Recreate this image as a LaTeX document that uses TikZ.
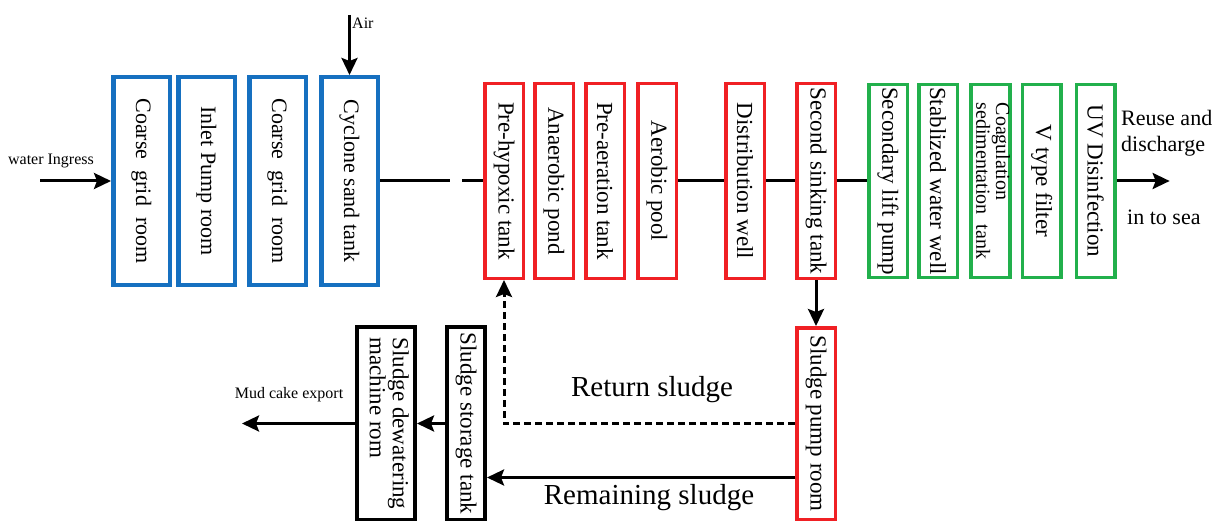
\documentclass[tikz,border=0pt]{standalone}
\usepackage{fontspec}
\setmainfont{Liberation Serif}
\usepackage{graphicx}
\usepackage{xcolor}
\usetikzlibrary{positioning, arrows.meta}
\definecolor{tankblue}{RGB}{22,112,192}
\definecolor{tankred}{RGB}{240,32,36}
\definecolor{tankgreen}{RGB}{34,176,76}
\newcommand{\vtext}[1]{\rotatebox{-90}{#1}}
\newcommand{\vtwo}[2]{\rotatebox{-90}{\begin{tabular}{@{}l@{}}#1\\#2\end{tabular}}}
\tikzstyle{blockb} = [rectangle, draw=tankblue, line width=4.5pt, inner sep=0pt, minimum width=56.5pt, minimum height=207.5pt, font=\fontsize{22}{22}\selectfont]
\tikzstyle{blockr} = [rectangle, draw=tankred, line width=3.5pt, inner sep=0pt, minimum width=38.5pt, minimum height=194.5pt, font=\fontsize{23}{23}\selectfont]
\tikzstyle{blockg} = [rectangle, draw=tankgreen, line width=3.5pt, inner sep=0pt, minimum width=38.5pt, minimum height=192.5pt, font=\fontsize{23}{23}\selectfont]
\tikzstyle{blockk} = [rectangle, draw=black, line width=4pt, inner sep=0pt, minimum width=38pt, minimum height=193pt, font=\fontsize{23}{23}\selectfont]
\tikzstyle{lbls} = [inner sep=0pt, font=\fontsize{16}{16}\selectfont]
\tikzstyle{lblm} = [inner sep=0pt, font=\fontsize{22}{26}\selectfont]
\tikzstyle{lblb} = [inner sep=0pt, font=\fontsize{29}{29}\selectfont]
\tikzstyle{pipe} = [draw, line width=3pt]
\tikzstyle{flow} = [draw, line width=3pt, -{Stealth[length=17pt,width=16pt,inset=3pt]}]

\begin{document}
\begin{tikzpicture}[x=1pt, y=1pt]
\useasboundingbox (0,0) rectangle (1222,-521);

\node [blockb] (cg1) at (141.5,-181) {\vtext{Coarse~~grid~~room}};
\node [blockb, right=4pt of cg1] (inlet) {\vtext{Inlet Pump room}};
\node [blockb, right=10pt of inlet] (cg2) {\vtext{Coarse~~grid~~room}};
\node [blockb, right=11pt of cg2] (cyclone) {\vtext{Cyclone sand tank}};

\node [blockr, right=103pt of cyclone] (prehyp) {\vtext{Pre-hypoxic tank}};
\node [blockr, right=8pt of prehyp] (anaer) {\vtext{Anaerobic pond}};
\node [blockr, right=9pt of anaer] (preaer) {\vtext{Pre-aeration tank}};
\node [blockr, right=10pt of preaer] (aerobic) {\vtext{Aerobic pool}};
\node [blockr, right=46pt of aerobic] (distwell) {\vtext{Distribution well}};
\node [blockr, right=29pt of distwell] (sink) {\vtext{Second sinking tank}};

\node [blockg, right=30pt of sink] (liftpump) {\vtext{Secondary lift pump}};
\node [blockg, right=8pt of liftpump] (stabwell) {\vtext{Stablized water well}};
\node [blockg, right=10pt of stabwell, font=\fontsize{20}{19}\selectfont] (coag) {\vtwo{Coagulation}{sedimentation~~tank}};
\node [blockg, right=9pt of coag] (vfilter) {\vtext{V type filter}};
\node [blockg, right=12pt of vfilter] (uv) {\vtext{UV Disinfection}};

\node [blockr, minimum height=191.5pt, below=46pt of sink] (spump) {\vtext{Sludge pump room}};
\node [blockk, left=308pt of spump] (store) {\vtext{Sludge storage tank}};
\node [blockk, minimum width=58pt, left=28pt of store] (dewater) {\vtwo{Sludge dewatering}{machine rom}};

\node [lbls] (wtxt) at (51,-161) {water Ingress};
\coordinate (win) at (40,-181);
\coordinate [above=60pt of cyclone.north] (airin);
\node [lbls, anchor=west] (airtxt) at (352,-23) {Air};
\coordinate [right=53pt of uv] (seaout);
\node [lblm, anchor=west, align=left] (reuse) at (1121,-133) {Reuse and\\discharge};
\node [lblm, anchor=west] (sea) at (1127,-217) {in to sea};
\coordinate [left=113pt of dewater] (mudout);
\node [lbls] (mudtxt) at (289,-395) {Mud cake export};
\node [lblb] (rettxt) at (652,-390) {Return sludge};
\node [lblb] (remtxt) at (649,-498) {Remaining sludge};

\path [flow] (win) -- (cg1);
\path [flow] (airin) -- (cyclone);
\path [pipe, dash pattern=on 70pt off 12pt] (cyclone) -- (prehyp);
\path [pipe] (aerobic) -- (distwell);
\path [pipe] (distwell) -- (sink);
\path [pipe] (sink) -- (liftpump);
\path [flow] (uv) -- (seaout);

\path [flow] (sink) -- (spump);
\path [flow, dash pattern=on 7pt off 4pt] (spump) -| (prehyp);
\path [flow] ([yshift=-54pt]spump.west) -- ([yshift=-54pt]store.east);
\path [flow] (store) -- (dewater);
\path [flow] (dewater) -- (mudout);

\end{tikzpicture}
\end{document}
